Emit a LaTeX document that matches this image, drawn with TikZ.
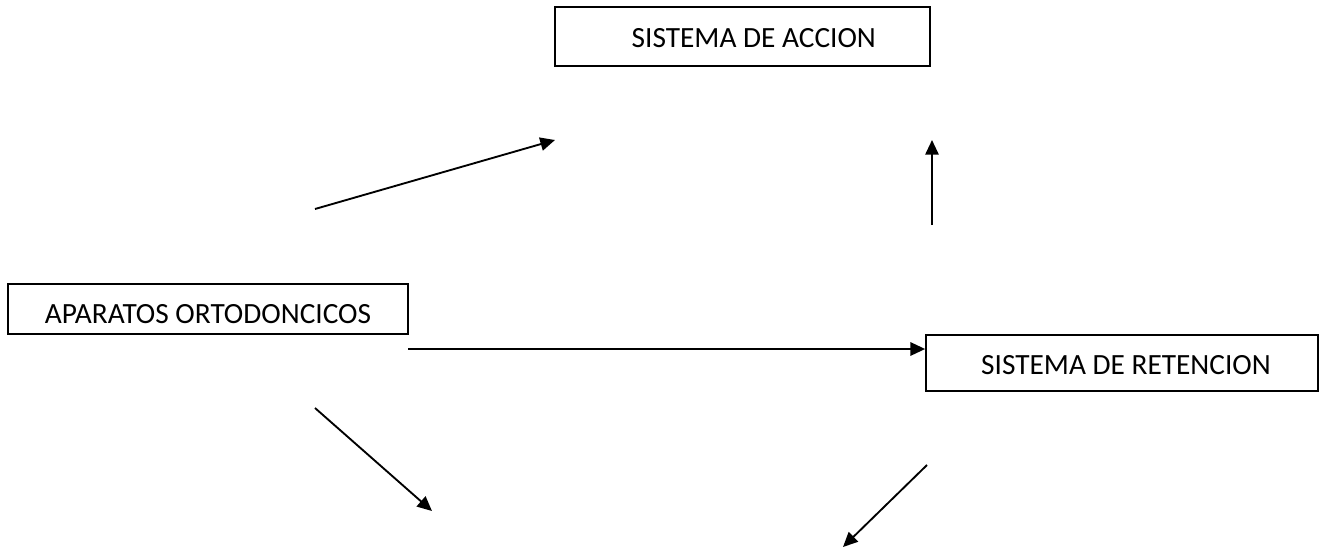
\documentclass[tikz,border=0pt]{standalone}
\usepackage{fontspec}
\setmainfont{Carlito}
\usetikzlibrary{arrows.meta}
\begin{document}
\begin{tikzpicture}[x=0.75pt,y=-0.75pt,
  box/.style={draw, line width=1.3pt, rectangle, inner sep=0pt, font=\fontsize{22pt}{26pt}\selectfont},
  conn/.style={line width=1.4pt, -{Triangle[length=11pt,width=10pt]}}]
\useasboundingbox (0,0) rectangle (1329,550);
\node[box, minimum width=281.25pt, minimum height=44.25pt, text height=30pt, text depth=14.25pt] (acc) at (742.5,36.5) {\hspace{17pt}SISTEMA DE ACCION};
\node[box, minimum width=300pt, minimum height=37.5pt, text height=29.25pt, text depth=8.25pt] (apa) at (208,309) {APARATOS ORTODONCICOS};
\node[box, minimum width=294pt, minimum height=42pt, text height=29.25pt, text depth=12.75pt] (ret) at (1122,363) {\hspace{6pt}SISTEMA DE RETENCION};
\coordinate (a1s) at (315,209);
\coordinate (a1e) at (555,140);
\coordinate (a2s) at (932,225);
\coordinate (a2e) at (932,140);
\coordinate (a3s) at (408,349);
\coordinate (a4s) at (315,408);
\coordinate (a4e) at (432,511);
\coordinate (a5s) at (927,465);
\coordinate (a5e) at (843,547);
\draw[conn] (a1s) -- (a1e);
\draw[conn] (a2s) -- (a2e);
\draw[conn] (a3s) -- (a3s -| ret.west);
\draw[conn] (a4s) -- (a4e);
\draw[conn] (a5s) -- (a5e);
\end{tikzpicture}
\end{document}
